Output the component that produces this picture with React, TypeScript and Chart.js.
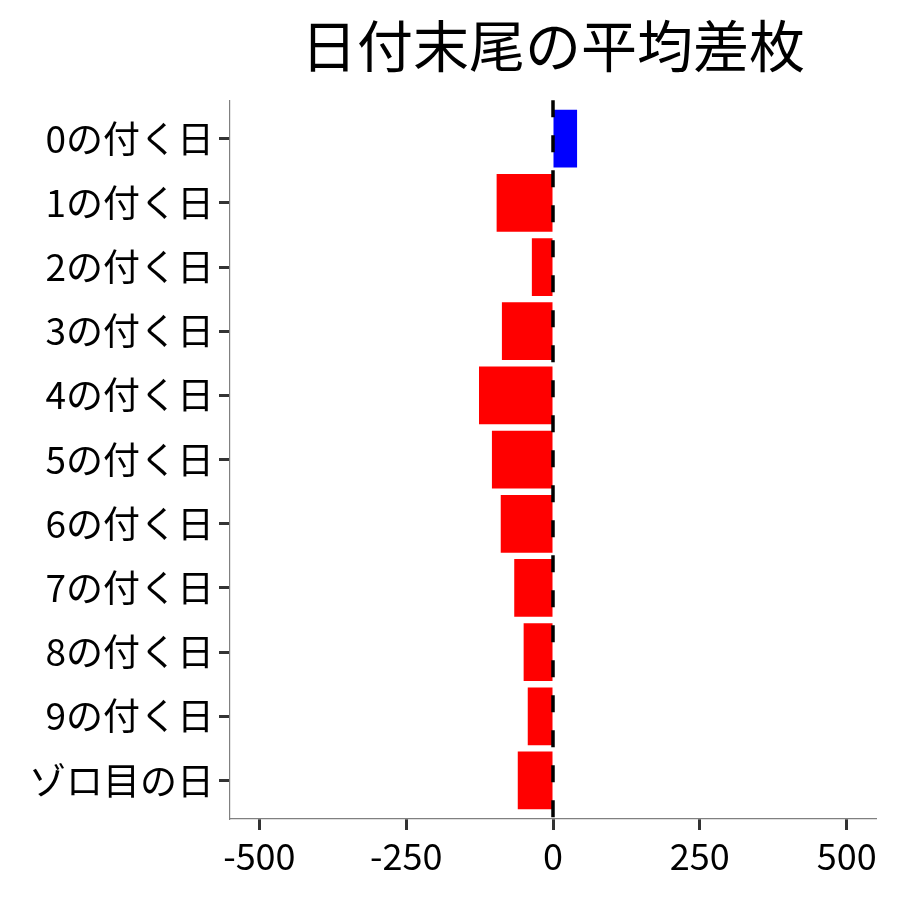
import { useEffect, useRef } from "react";
import { Chart, registerables } from "chart.js";

Chart.register(...registerables);

const categories = [
  "0の付く日",
  "1の付く日",
  "2の付く日",
  "3の付く日",
  "4の付く日",
  "5の付く日",
  "6の付く日",
  "7の付く日",
  "8の付く日",
  "9の付く日",
  "ゾロ目の日",
];
const avgDiff = [41, -96, -36, -87, -126, -104, -89, -66, -50, -43, -60];
const xTicks = [-500, -250, 0, 250, 500];

const FONT = "'Noto Sans CJK JP', 'Noto Sans', sans-serif";

// dashed reference line at x = 0, drawn above the bars
const zeroLine = {
  id: "zeroLine",
  afterDatasetsDraw(chart: Chart) {
    const { ctx, chartArea, scales } = chart;
    const x = scales.x.getPixelForValue(0);
    ctx.save();
    ctx.strokeStyle = "#000";
    ctx.lineWidth = 3.5;
    ctx.setLineDash([17, 18]);
    ctx.beginPath();
    ctx.moveTo(x, chartArea.top);
    ctx.lineTo(x, chartArea.bottom);
    ctx.stroke();
    ctx.restore();
  },
};

export default function App() {
  const canvasRef = useRef<HTMLCanvasElement>(null);
  const chartRef = useRef<Chart | null>(null);

  useEffect(() => {
    document.body.style.margin = "0";
    if (!canvasRef.current) return;
    chartRef.current?.destroy();

    const ctx = canvasRef.current.getContext("2d")!;
    chartRef.current = new Chart(ctx, {
      type: "bar",
      data: {
        datasets: [
          {
            data: avgDiff.map((v, i) => ({ x: v, y: i })),
            backgroundColor: avgDiff.map((v) => (v >= 0 ? "#0000FF" : "#FF0000")),
            borderWidth: 0,
            barPercentage: 0.9,
            categoryPercentage: 1,
          },
        ],
      },
      options: {
        indexAxis: "y",
        animation: false,
        responsive: false,
        layout: { padding: { left: 8, right: 24, top: 0, bottom: 0 } },
        plugins: {
          legend: { display: false },
          tooltip: { enabled: false },
          title: {
            display: true,
            text: "日付末尾の平均差枚",
            fullSize: false,
            color: "#000",
            font: { family: FONT, size: 56, weight: "normal", lineHeight: 1.2 },
            padding: { top: 12, bottom: 21 },
          },
        },
        scales: {
          x: {
            type: "linear",
            min: -550,
            max: 550,
            offset: false,
            afterBuildTicks: (axis) => {
              axis.ticks = xTicks.map((v) => ({ value: v }));
            },
            afterFit: (axis) => {
              axis.height = 81;
            },
            grid: {
              display: true,
              offset: false,
              drawOnChartArea: false,
              drawTicks: true,
              tickLength: 11,
              tickWidth: 3,
              tickColor: "#333333",
            },
            border: { display: true, color: "#808080", width: 1.2 },
            ticks: {
              color: "#000",
              padding: 5,
              maxRotation: 0,
              font: { family: FONT, size: 36 },
            },
          },
          y: {
            type: "linear",
            min: -0.6,
            max: categories.length - 0.4,
            reverse: true,
            offset: false,
            afterBuildTicks: (axis) => {
              axis.ticks = categories.map((_, i) => ({ value: i }));
            },
            afterFit: (axis) => {
              axis.width = 222;
            },
            grid: {
              display: true,
              offset: false,
              drawOnChartArea: false,
              drawTicks: true,
              tickLength: 11,
              tickWidth: 3,
              tickColor: "#333333",
            },
            border: { display: true, color: "#808080", width: 1.2 },
            ticks: {
              color: "#000",
              padding: 5,
              font: { family: FONT, size: 37 },
              callback: (v) => categories[Number(v)] ?? "",
            },
          },
        },
      },
      plugins: [zeroLine],
    });

    return () => {
      chartRef.current?.destroy();
      chartRef.current = null;
    };
  }, []);

  return (
    <div style={{ width: 900, height: 900, background: "#fff" }}>
      <canvas ref={canvasRef} width={900} height={900} />
    </div>
  );
}
